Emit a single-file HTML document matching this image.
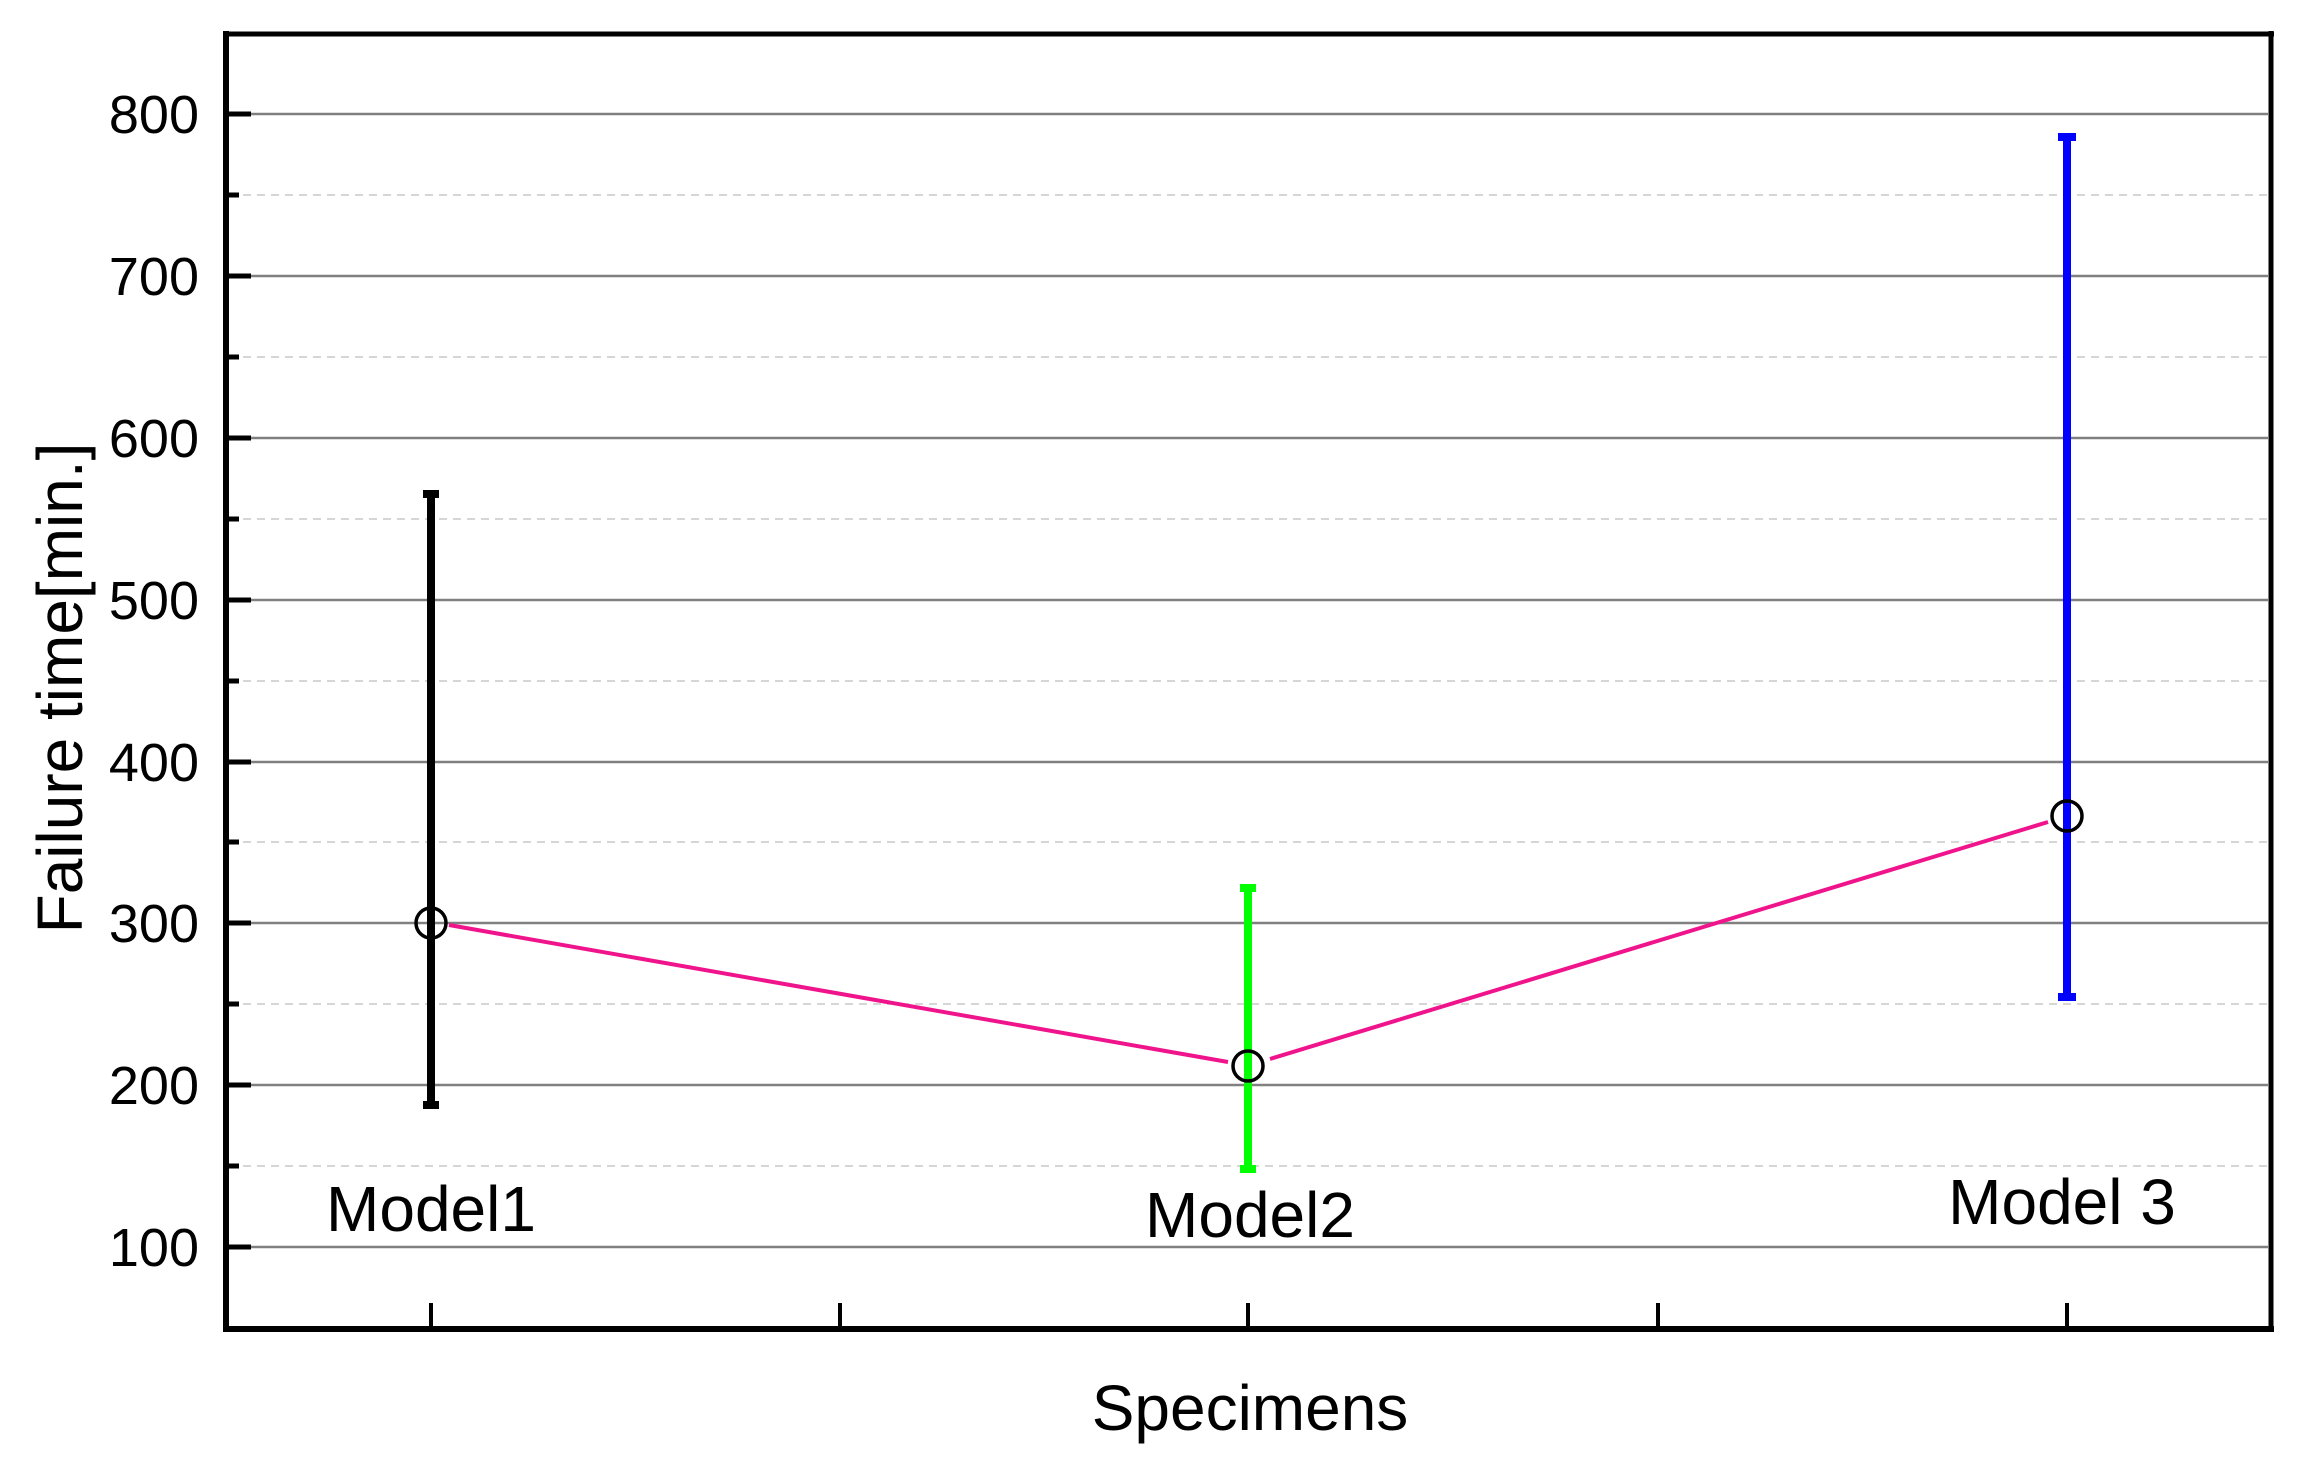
<!DOCTYPE html>
<html><head><meta charset="utf-8"><style>html,body{margin:0;padding:0;background:#fff}svg{display:block}</style></head>
<body>
<svg width="2312" height="1468" viewBox="0 0 2312 1468" xmlns="http://www.w3.org/2000/svg" font-family="Liberation Sans, Arial, sans-serif">
<rect width="2312" height="1468" fill="#fff"/>
<g stroke="#c8c8c8" stroke-width="1.5" stroke-dasharray="8,6">
<line x1="229" x2="2268" y1="195" y2="195"/>
<line x1="229" x2="2268" y1="357" y2="357"/>
<line x1="229" x2="2268" y1="519" y2="519"/>
<line x1="229" x2="2268" y1="681" y2="681"/>
<line x1="229" x2="2268" y1="842" y2="842"/>
<line x1="229" x2="2268" y1="1004" y2="1004"/>
<line x1="229" x2="2268" y1="1166" y2="1166"/>
</g>
<g stroke="#808080" stroke-width="2.5">
<line x1="229" x2="2268" y1="114" y2="114"/>
<line x1="229" x2="2268" y1="276" y2="276"/>
<line x1="229" x2="2268" y1="438" y2="438"/>
<line x1="229" x2="2268" y1="600" y2="600"/>
<line x1="229" x2="2268" y1="762" y2="762"/>
<line x1="229" x2="2268" y1="923" y2="923"/>
<line x1="229" x2="2268" y1="1085" y2="1085"/>
<line x1="229" x2="2268" y1="1247" y2="1247"/>
</g>
<line x1="226" y1="31" x2="226" y2="1332" stroke="#000" stroke-width="6"/>
<line x1="224" y1="1329" x2="2274" y2="1329" stroke="#000" stroke-width="6"/>
<line x1="226" y1="34" x2="2274" y2="34" stroke="#000" stroke-width="5"/>
<line x1="2271" y1="31" x2="2271" y2="1332" stroke="#000" stroke-width="5"/>
<g stroke="#000" stroke-width="5">
<line x1="226" x2="251" y1="114" y2="114"/><line x1="226" x2="251" y1="276" y2="276"/>
<line x1="226" x2="251" y1="438" y2="438"/><line x1="226" x2="251" y1="600" y2="600"/>
<line x1="226" x2="251" y1="762" y2="762"/><line x1="226" x2="251" y1="923" y2="923"/>
<line x1="226" x2="251" y1="1085" y2="1085"/><line x1="226" x2="251" y1="1247" y2="1247"/>
<line x1="226" x2="239" y1="195" y2="195"/><line x1="226" x2="239" y1="357" y2="357"/>
<line x1="226" x2="239" y1="519" y2="519"/><line x1="226" x2="239" y1="681" y2="681"/>
<line x1="226" x2="239" y1="842" y2="842"/><line x1="226" x2="239" y1="1004" y2="1004"/>
<line x1="226" x2="239" y1="1166" y2="1166"/>
</g>
<g stroke="#000" stroke-width="4">
<line x1="431" x2="431" y1="1303" y2="1329"/><line x1="840" x2="840" y1="1303" y2="1329"/>
<line x1="1248" x2="1248" y1="1303" y2="1329"/><line x1="1658" x2="1658" y1="1303" y2="1329"/>
<line x1="2067" x2="2067" y1="1303" y2="1329"/>
</g>
<g font-size="54" text-anchor="end" fill="#000">
<text x="199" y="133">800</text><text x="199" y="295">700</text><text x="199" y="457">600</text>
<text x="199" y="619">500</text><text x="199" y="781">400</text><text x="199" y="942">300</text>
<text x="199" y="1104">200</text><text x="199" y="1266">100</text>
</g>
<text transform="translate(82,688) rotate(-90)" font-size="64" text-anchor="middle">Failure time[min.]</text>
<text x="1250" y="1430" font-size="64" text-anchor="middle">Specimens</text>
<g font-size="64" text-anchor="middle">
<text x="431" y="1231">Model1</text>
<text x="1250" y="1237">Model2</text>
<text x="2062" y="1224">Model 3</text>
</g>
<polyline points="449,925 1228,1062" fill="none" stroke="#f0148c" stroke-width="4"/>
<polyline points="1270,1059 2048,822" fill="none" stroke="#f0148c" stroke-width="4"/>
<g stroke="#000" stroke-width="8"><line x1="431" x2="431" y1="491" y2="1108"/><line x1="423" x2="439" y1="494" y2="494"/><line x1="423" x2="439" y1="1105" y2="1105"/></g>
<g stroke="#00ff00" stroke-width="8"><line x1="1248" x2="1248" y1="885" y2="1172"/><line x1="1240" x2="1256" y1="888" y2="888"/><line x1="1240" x2="1256" y1="1169" y2="1169"/></g>
<g stroke="#0000ff" stroke-width="8"><line x1="2067" x2="2067" y1="134" y2="1000"/><line x1="2058" x2="2076" y1="137" y2="137"/><line x1="2058" x2="2076" y1="997" y2="997"/></g>
<g fill="none" stroke="#000" stroke-width="3.5">
<circle cx="431" cy="923" r="15"/>
<circle cx="1248" cy="1066" r="15"/>
<circle cx="2067" cy="816" r="15"/>
</g>
</svg>
</body></html>
